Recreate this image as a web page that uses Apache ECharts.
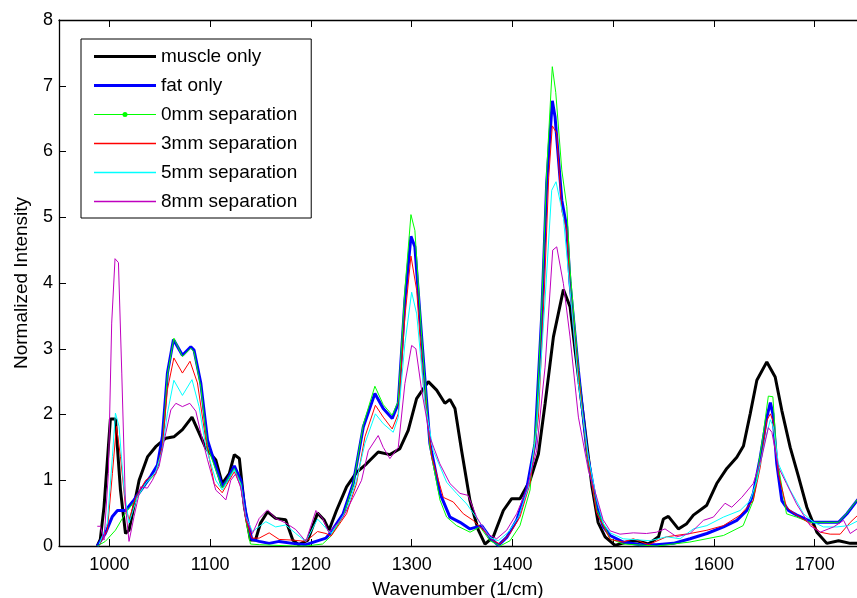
<!DOCTYPE html>
<html>
<head>
<meta charset="utf-8">
<script src="https://cdn.jsdelivr.net/npm/echarts@6/dist/echarts.min.js"></script>
<style>
html,body{margin:0;padding:0;background:#fff;}
#chart{width:857px;height:598px;}
</style>
</head>
<body>
<div id="chart"></div>
<script>
// ---- data ----
const seriesNames = ['muscle only', 'fat only', '0mm separation', '3mm separation', '5mm separation', '8mm separation'];
const xTicks = [1000, 1100, 1200, 1300, 1400, 1500, 1600, 1700];
const yTicks = [0, 1, 2, 3, 4, 5, 6, 7, 8];

const muscleX = [988,991,994.7,1001,1006,1011,1016,1019.5,1029.5,1038,1046,1056,1064,1072.5,1082,1089,1095.7,1105.6,1112,1119,1124,1129,1134,1140,1145,1150,1157,1165,1175,1182,1188,1197,1206.6,1213,1218,1225.4,1235.4,1245.3,1255.2,1266.8,1278.4,1288.3,1296.6,1304.9,1316.5,1324.8,1333,1338,1343,1349.6,1357.9,1366.2,1372.8,1381,1391,1399.3,1407.5,1417.5,1425.8,1432.4,1440.7,1450.6,1457.2,1462.2,1470.5,1479,1485,1492,1501.8,1513.4,1523.4,1535,1545,1549.8,1554.8,1564.7,1573,1579.6,1592.9,1602.8,1612.8,1622.7,1629.3,1636,1642.6,1652.5,1660.8,1667.4,1675.7,1684,1692.2,1702.2,1712,1723.7,1735.3,1745];
const muscleY = [0,0.1,0.6,1.93,1.93,0.85,0.19,0.24,1.0,1.36,1.51,1.64,1.66,1.77,1.96,1.72,1.49,1.31,0.95,1.1,1.39,1.33,0.6,0.09,0.09,0.35,0.52,0.42,0.40,0.09,0.02,0.09,0.5,0.4,0.24,0.54,0.90,1.12,1.25,1.43,1.39,1.48,1.76,2.24,2.50,2.37,2.17,2.23,2.09,1.45,0.69,0.24,0.03,0.14,0.54,0.72,0.72,1.0,1.40,2.16,3.18,3.90,3.64,2.98,1.96,0.9,0.36,0.14,0.01,0.06,0.08,0.03,0.14,0.41,0.45,0.26,0.34,0.47,0.62,0.95,1.18,1.35,1.52,2.01,2.52,2.80,2.57,2.06,1.50,1.05,0.59,0.21,0.04,0.08,0.04,0.04];

const fatX = [988,996,1003,1008,1016,1024.5,1032.8,1041,1047.7,1052.6,1057.6,1063.6,1072.5,1080.8,1084,1090.7,1097.4,1105.6,1112,1117,1124,1130.5,1135.4,1141.4,1148.7,1158.6,1168.5,1181.8,1195,1205,1215,1219,1232,1242,1252,1263.5,1271.8,1280.7,1286.7,1293.3,1299.3,1303.2,1309.9,1318.1,1328.1,1338,1348,1357.9,1369.5,1377.7,1386,1394.3,1404.2,1414,1422.4,1429,1434,1439.6,1442.3,1449,1453.9,1457.2,1465.5,1473.8,1483.7,1490,1497,1510,1526.7,1543,1559.8,1576.3,1593,1609.5,1622.7,1632.6,1639.2,1646,1652.5,1656,1658.5,1662.4,1667.4,1674,1682.3,1692.2,1699,1723.7,1732,1745];
const fatY = [0,0.19,0.45,0.54,0.54,0.7,0.88,1.06,1.23,1.66,2.63,3.14,2.90,3.03,2.98,2.48,1.61,1.21,0.90,1.0,1.22,1.0,0.5,0.1,0.07,0.04,0.07,0.04,0.02,0.07,0.12,0.19,0.49,0.95,1.81,2.32,2.09,1.94,2.17,3.74,4.71,4.55,3.18,1.56,0.80,0.44,0.36,0.26,0.31,0.13,0.01,0.13,0.39,0.85,1.56,3.48,5.51,6.77,6.53,5.26,4.85,4.0,2.67,1.45,0.6,0.3,0.16,0.06,0.02,0.02,0.04,0.11,0.19,0.29,0.39,0.54,0.80,1.35,1.96,2.18,2.01,1.25,0.69,0.54,0.47,0.40,0.36,0.36,0.49,0.75];

const sep0X = [988,996,1006,1016,1026,1036,1046,1052.6,1057.6,1064,1072.5,1080.8,1084,1090.7,1097.4,1105.6,1112,1124,1130.5,1135.4,1140,1148.7,1182,1195,1211.6,1220,1232,1242,1252,1263.5,1271.8,1280.7,1286.7,1293.3,1299.3,1303.2,1309.9,1318.1,1328.1,1334.7,1344.6,1358,1367.8,1377.7,1387.7,1397.6,1407.5,1417.5,1424,1429,1434,1439.6,1443,1449,1454,1457.2,1465.5,1473.8,1483.7,1497,1510,1543,1576,1609.5,1629,1639,1649,1654,1658.5,1662.4,1672,1682,1695.5,1723.7,1732,1745];
const sep0Y = [0,0.07,0.24,0.5,0.7,0.95,1.1,1.51,2.6,3.16,2.88,3.01,2.95,2.42,1.51,1.16,0.88,1.18,0.95,0.4,0.03,0.02,0,0,0.03,0.15,0.45,0.93,1.85,2.43,2.15,1.99,2.2,3.9,5.04,4.8,3.2,1.5,0.7,0.44,0.31,0.21,0.29,0.08,0,0.08,0.31,0.85,1.96,3.6,5.7,7.29,6.9,5.72,5.16,4.2,2.7,1.4,0.55,0.11,0.03,0,0.06,0.16,0.31,0.69,1.71,2.28,2.27,1.35,0.49,0.44,0.36,0.36,0.5,0.76];

const sep3X = [990,998,1003,1007,1011,1016,1019.5,1026,1036,1046,1052.6,1057.6,1064,1072.5,1080,1087.4,1095.7,1104,1112,1124,1130.5,1135.4,1141.4,1148.7,1158.6,1168.5,1181.8,1195,1206.6,1215,1220,1235.4,1245.3,1253.6,1264,1271.8,1280.7,1286.7,1293.3,1299.3,1305,1311.5,1320,1331.4,1341.3,1351.3,1361,1371,1381,1387.7,1397.6,1407.5,1417.5,1425.8,1432,1436,1439.6,1443.9,1449,1453.9,1457.2,1465.5,1473.8,1483.6,1497,1510,1520,1535,1553,1576.3,1593,1609.5,1626,1639,1646,1652.5,1656,1658.5,1664,1672,1682,1695.5,1705.5,1715.4,1725.3,1735.3,1745];
const sep3Y = [0.02,0.24,1.1,1.82,1.36,0.6,0.4,0.73,1.0,1.1,1.51,2.38,2.86,2.63,2.81,2.48,1.61,0.95,0.81,1.13,0.9,0.4,0.12,0.12,0.2,0.1,0.09,0.07,0.22,0.19,0.15,0.49,0.95,1.66,2.14,1.96,1.78,2.01,3.48,4.41,3.89,2.47,1.35,0.74,0.67,0.49,0.39,0.24,0.08,0.03,0.19,0.44,0.95,1.96,4.0,5.6,6.39,6.28,5.1,4.8,3.9,2.6,1.45,0.5,0.1,0.06,0.11,0.02,0.14,0.19,0.24,0.31,0.47,0.69,1.2,1.91,2.01,1.91,1.1,0.59,0.47,0.34,0.21,0.18,0.18,0.36,0.5];

const sep5X = [990,998,1003,1006,1009.6,1014.6,1019.5,1027.8,1036,1046,1052.6,1057.6,1064,1072.5,1082,1089,1095.7,1105.6,1112,1124,1130.5,1135.4,1142,1155.3,1165,1175,1185,1195,1206.6,1215,1220,1235.4,1245.3,1253.6,1264,1271.8,1281.7,1286.7,1293.3,1300,1305,1313.2,1321.5,1334.7,1344.6,1354.6,1366.2,1377.7,1386,1396,1406,1416,1424,1432.4,1439,1443.3,1450.6,1457.2,1465.5,1475.4,1483.7,1490,1497,1510,1536.6,1553,1566.4,1579.6,1593,1609.5,1626,1636,1642.6,1650.8,1656,1659,1664,1675.7,1689,1699,1708.8,1722,1733.6,1745];
const sep5Y = [0.03,0.35,1.36,2.02,1.82,0.85,0.35,0.75,0.95,1.13,1.46,2.02,2.52,2.29,2.53,2.12,1.51,1.0,0.85,1.16,0.93,0.45,0.22,0.37,0.29,0.32,0.19,0.07,0.41,0.27,0.19,0.54,1.0,1.56,2.01,1.86,1.73,1.96,3.08,3.86,3.53,2.16,1.45,0.97,0.8,0.64,0.39,0.13,0.08,0.21,0.44,0.9,1.76,3.74,5.41,5.54,5.0,3.89,2.47,1.35,0.7,0.35,0.2,0.11,0.08,0.14,0.11,0.26,0.31,0.44,0.54,0.69,1.0,1.61,1.92,1.81,1.25,0.85,0.49,0.36,0.29,0.29,0.31,0.4];

const sep8X = [988,991,994.7,999,1002.3,1005.6,1009,1012.3,1016,1019.5,1024.5,1031,1037.7,1042.7,1049.3,1056,1061,1066,1072.5,1079.8,1085.8,1090.7,1097.4,1105.6,1110.6,1115.6,1120.5,1125.5,1130.5,1135.4,1142,1148.7,1157,1165,1175,1185,1195,1205,1211.6,1218,1232,1242,1250.3,1257,1266.8,1271.8,1278.4,1286.7,1293.3,1300,1304.2,1309.9,1318,1328,1338,1348,1356,1364.5,1374.4,1384.4,1394.3,1404.2,1414,1424,1432.4,1440,1444,1450.6,1457.2,1465.5,1475.4,1483.7,1490,1497,1506.8,1520,1533,1543,1551.5,1563,1576.3,1589.6,1599.5,1611,1617.7,1627.7,1639,1647.5,1654,1657.5,1664,1672,1682,1695.5,1705.5,1718.7,1728.7,1735.3,1745];
const sep8Y = [0.3,0.3,0.09,1.1,3.39,4.37,4.31,2.63,0.6,0.07,0.45,0.9,0.88,1.0,1.21,1.72,2.07,2.17,2.12,2.17,2.05,1.72,1.31,0.85,0.78,0.70,1.0,1.1,0.88,0.42,0.19,0.42,0.55,0.42,0.35,0.25,0.07,0.54,0.42,0.2,0.44,0.74,1.0,1.45,1.68,1.5,1.33,1.5,2.47,3.05,3.0,2.37,1.66,1.25,0.95,0.8,0.77,0.44,0.19,0.11,0.24,0.49,0.85,1.45,2.72,4.5,4.55,3.99,3.18,1.96,1.15,0.74,0.4,0.23,0.18,0.2,0.19,0.21,0.26,0.14,0.19,0.39,0.44,0.65,0.59,0.74,0.95,1.35,1.80,1.73,1.2,0.95,0.64,0.31,0.21,0.29,0.39,0.19,0.29];

const xs = [muscleX, fatX, sep0X, sep3X, sep5X, sep8X];
const ys = [muscleY, fatY, sep0Y, sep3Y, sep5Y, sep8Y];
const colors = ['#000000', '#0000ff', '#00ff00', '#ff0000', '#00ffff', '#bf00bf'];
const widths = [3, 3, 1, 1, 1, 1];

// legend icons: plain line, or line with a dot marker
const ICON_THICK = 'path://M0,0 H62 V3 H0 Z';
const ICON_THIN = 'path://M0,0 H62 V1.3 H0 Z';
const ICON_DOT = 'path://M0,2 H62 V3.2 H0 Z M31,0.1 A2.5,2.5 0 1 1 31,5.1 A2.5,2.5 0 1 1 31,0.1 Z';
const icons = [ICON_THICK, ICON_THICK, ICON_DOT, ICON_THIN, ICON_THIN, ICON_THIN];

const FONT = '"Liberation Sans", Arial, Helvetica, sans-serif';
const chart = echarts.init(document.getElementById('chart'), null, {renderer: 'canvas'});

const series = seriesNames.map((name, i) => ({
  name: name,
  type: 'line',
  data: xs[i].map((x, k) => [x, ys[i][k]]),
  symbol: 'none',
  showSymbol: false,
  color: colors[i],
  lineStyle: {color: colors[i], width: widths[i]},
  itemStyle: {color: colors[i], borderColor: colors[i], borderWidth: 0},
  animation: false,
  silent: true,
  clip: true,
  z: 2 + i
}));

const axisLineStyle = {color: '#000', width: 1.3};
const tickStyle = {show: true, inside: true, length: 7, lineStyle: {color: '#000', width: 1}};
chart.setOption({
  backgroundColor: '#ffffff',
  animation: false,
  grid: {left: 59, top: 20, right: 0, bottom: 52, containLabel: false, outerBoundsMode: 'none'},
  legend: {
    data: seriesNames.map((n, i) => ({
      name: n, icon: icons[i],
      itemStyle: {color: colors[i], borderWidth: 0, borderColor: colors[i]}
    })),
    orient: 'vertical',
    left: 81, top: 39,
    backgroundColor: '#fff',
    borderColor: '#000', borderWidth: 1,
    padding: [8, 14, 7, 13],
    itemWidth: 62, itemHeight: 14, itemGap: 10,
    symbolKeepAspect: true,
    textStyle: {fontSize: 19, fontFamily: FONT, color: '#000'},
    selectedMode: false
  },
  xAxis: [{
    type: 'value', min: 950, max: 1742, splitNumber: 8,
    position: 'bottom',
    name: 'Wavenumber (1/cm)', nameLocation: 'middle', nameGap: 34,
    nameTextStyle: {fontSize: 19, fontFamily: FONT, color: '#000'},
    axisLine: {show: true, lineStyle: axisLineStyle},
    axisTick: tickStyle,
    axisLabel: {
      fontSize: 18, fontFamily: FONT, color: '#000', margin: 10,
      showMinLabel: false, showMaxLabel: false,
      formatter: v => (xTicks.indexOf(v) >= 0 ? String(v) : '')
    },
    splitLine: {show: false}
  }, {
    type: 'value', min: 950, max: 1742, splitNumber: 8,
    position: 'top',
    axisLine: {show: true, lineStyle: axisLineStyle},
    axisTick: tickStyle,
    axisLabel: {show: false},
    splitLine: {show: false}
  }],
  yAxis: {
    type: 'value', min: yTicks[0], max: yTicks[yTicks.length - 1], interval: 1,
    name: 'Normalized Intensity', nameLocation: 'middle', nameGap: 28,
    nameTextStyle: {fontSize: 19, fontFamily: FONT, color: '#000'},
    axisLine: {show: true, lineStyle: axisLineStyle},
    axisTick: tickStyle,
    axisLabel: {fontSize: 18, fontFamily: FONT, color: '#000', margin: 6},
    splitLine: {show: false}
  },
  series: series
});
</script>
</body>
</html>
